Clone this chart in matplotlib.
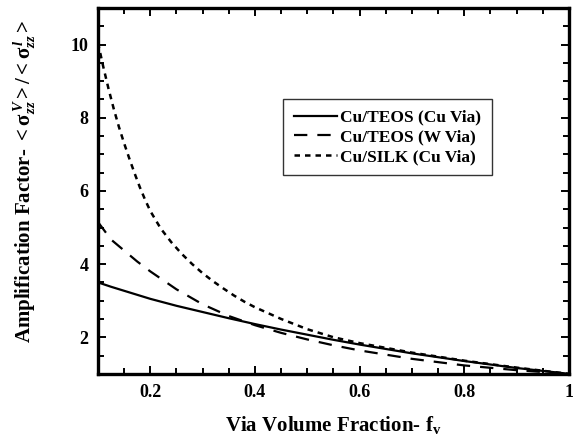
#!/usr/bin/env python3

import matplotlib
matplotlib.use("Agg")
import matplotlib.pyplot as plt
from matplotlib.ticker import MultipleLocator

# via volume fraction and amplification factor for each stack
frac_teos = [0.1, 0.125, 0.15, 0.175, 0.2, 0.25, 0.3, 0.35, 0.4, 0.45, 0.5, 0.55, 0.6, 0.7, 0.8, 0.9, 1.0]
teos_cu = [3.5, 3.38, 3.27, 3.16, 3.05, 2.86, 2.69, 2.52, 2.36, 2.21, 2.07, 1.93, 1.80, 1.56, 1.35, 1.16, 1.0]
teos_w = [5.15, 4.67, 4.37, 4.07, 3.8, 3.31, 2.9, 2.58, 2.33, 2.12, 1.94, 1.78, 1.64, 1.41, 1.23, 1.1, 1.0]

frac_silk = [0.1, 0.11, 0.12, 0.13, 0.14, 0.15, 0.16, 0.17, 0.18, 0.19, 0.2, 0.22, 0.24, 0.26, 0.28,
             0.3, 0.32, 0.34, 0.36, 0.38, 0.4, 0.45, 0.5, 0.55, 0.6, 0.7, 0.8, 0.9, 1.0]
silk_cu = [10.05, 9.4, 8.8, 8.25, 7.75, 7.3, 6.88, 6.48, 6.1, 5.76, 5.45, 4.97, 4.6, 4.28, 4.0,
           3.75, 3.53, 3.33, 3.14, 2.97, 2.82, 2.5, 2.22, 2.0, 1.84, 1.58, 1.36, 1.17, 1.0]

series_labels = ["Cu/TEOS (Cu Via)", "Cu/TEOS (W Via)", "Cu/SILK (Cu Via)"]
xtick_vals = [0.2, 0.4, 0.6, 0.8, 1.0]
xtick_labels = ["0.2", "0.4", "0.6", "0.8", "1"]
ytick_vals = [2, 4, 6, 8, 10]

plt.rcParams["font.family"] = "Liberation Serif"
plt.rcParams["font.weight"] = "bold"
plt.rcParams["mathtext.fontset"] = "custom"
plt.rcParams["mathtext.rm"] = "Liberation Serif:bold"
plt.rcParams["mathtext.it"] = "Liberation Serif:bold:italic"
plt.rcParams["mathtext.bf"] = "Liberation Serif:bold"


def main():
    fig = plt.figure(figsize=(5.73, 4.44), dpi=100)
    ax = fig.add_axes([0.171, 0.158, 0.822, 0.824])

    ax.plot(frac_teos, teos_cu, color="black", linewidth=1.6, label=series_labels[0])
    ax.plot(frac_teos, teos_w, color="black", linewidth=1.6, dashes=(6, 4.5), label=series_labels[1])
    ax.plot(frac_silk, silk_cu, color="black", linewidth=1.8, dashes=(2.2, 2.0), label=series_labels[2])

    ax.set_xlim(0.1, 1.0)
    ax.set_ylim(1, 11)
    ax.set_xticks(xtick_vals)
    ax.set_xticklabels(xtick_labels)
    ax.set_yticks(ytick_vals)
    ax.xaxis.set_minor_locator(MultipleLocator(0.05))
    ax.yaxis.set_minor_locator(MultipleLocator(0.5))

    ax.tick_params(which="both", direction="in", top=True, right=True, width=1.4, labelsize=13)
    ax.tick_params(which="major", length=6)
    ax.tick_params(which="minor", length=4)
    ax.tick_params(axis="x", pad=7)
    ax.tick_params(axis="y", pad=7)
    for lab in ax.get_xticklabels() + ax.get_yticklabels():
        lab.set_fontweight("bold")

    for spine in ax.spines.values():
        spine.set_linewidth(2.4)

    ax.set_xlabel(r"Via Volume Fraction- $\mathrm{f}_{\mathrm{v}}$", fontsize=15, fontweight="bold", labelpad=10)
    ax.set_ylabel(r"Amplification Factor- $<\mathrm{\sigma}_{zz}^{\,V}>/<\mathrm{\sigma}_{zz}^{\,l}>$",
                  fontsize=15, fontweight="bold")
    ax.yaxis.set_label_coords(-0.128, 0.525)

    leg = ax.legend(loc="upper left", bbox_to_anchor=(0.393, 0.751), fontsize=12.5, frameon=True,
                    fancybox=False, handlelength=2.5, handletextpad=0.2, borderpad=0.6,
                    labelspacing=0.2, borderaxespad=0)
    leg.get_frame().set_edgecolor("black")
    leg.get_frame().set_linewidth(1.0)

    fig.savefig("out.png", dpi=100)


if __name__ == "__main__":
    main()
